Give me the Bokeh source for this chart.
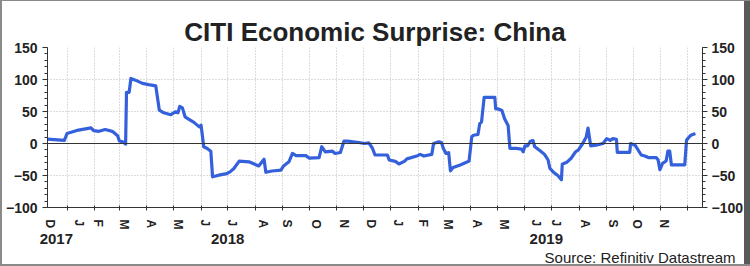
import pandas as pd
from bokeh.plotting import figure
from bokeh.models import (Range1d, LinearAxis, FixedTicker, Span, Grid, Title,
                          ColumnDataSource)
from bokeh.embed import file_html
from bokeh.resources import INLINE

# ---------------- data ----------------
dates = [
    "2017-12-10", "2017-12-29", "2018-01-01", "2018-01-14", "2018-01-28", "2018-01-31",
    "2018-02-06", "2018-02-13", "2018-02-21", "2018-02-27", "2018-03-01", "2018-03-05",
    "2018-03-08", "2018-03-09", "2018-03-12", "2018-03-14", "2018-03-19", "2018-03-27",
    "2018-04-03", "2018-04-11", "2018-04-15", "2018-04-20", "2018-04-28", "2018-05-03",
    "2018-05-06", "2018-05-08", "2018-05-11", "2018-05-14", "2018-05-18", "2018-05-24",
    "2018-05-30", "2018-06-01", "2018-06-02", "2018-06-04", "2018-06-08", "2018-06-12",
    "2018-06-14", "2018-06-21", "2018-06-30", "2018-07-04", "2018-07-08", "2018-07-14",
    "2018-07-25", "2018-08-05", "2018-08-11", "2018-08-13", "2018-08-20", "2018-08-30",
    "2018-09-02", "2018-09-08", "2018-09-12", "2018-09-16", "2018-09-27", "2018-10-01",
    "2018-10-12", "2018-10-15", "2018-10-19", "2018-10-27", "2018-10-30", "2018-11-05",
    "2018-11-09", "2018-11-13", "2018-11-26", "2018-12-02", "2018-12-07", "2018-12-11",
    "2018-12-14", "2018-12-28", "2018-12-30", "2019-01-06", "2019-01-10", "2019-01-16",
    "2019-01-19", "2019-01-31", "2019-02-03", "2019-02-07", "2019-02-16", "2019-02-18",
    "2019-02-24", "2019-02-27", "2019-03-01", "2019-03-04", "2019-03-07", "2019-03-09",
    "2019-03-12", "2019-03-20", "2019-03-27", "2019-03-30", "2019-04-02", "2019-04-04",
    "2019-04-09", "2019-04-11", "2019-04-13", "2019-04-16", "2019-04-28", "2019-04-29",
    "2019-05-02", "2019-05-06", "2019-05-09", "2019-05-13", "2019-05-15", "2019-05-22",
    "2019-05-28", "2019-05-30", "2019-06-01", "2019-06-04", "2019-06-07", "2019-06-10",
    "2019-06-12", "2019-06-18", "2019-06-23", "2019-06-27", "2019-06-29", "2019-07-03",
    "2019-07-08", "2019-07-12", "2019-07-13", "2019-07-18", "2019-07-23", "2019-07-28",
    "2019-07-31", "2019-08-05", "2019-08-09", "2019-08-11", "2019-08-14", "2019-08-20",
    "2019-08-28", "2019-09-01", "2019-09-05", "2019-09-08", "2019-09-12", "2019-09-13",
    "2019-09-27", "2019-09-28", "2019-10-03", "2019-10-10", "2019-10-14", "2019-10-18",
    "2019-10-27", "2019-10-29", "2019-10-31", "2019-11-03", "2019-11-07", "2019-11-09",
    "2019-11-11", "2019-11-13", "2019-11-28", "2019-11-30", "2019-12-02", "2019-12-05",
    "2019-12-10",
]
surprise = [
    6.8, 5, 15.6, 21, 24.5, 20,
    19, 22, 19, 12, 4, 2.6,
    -1, 80, 80, 101.6, 99, 94,
    92, 90, 52, 48, 45, 49.5,
    48, 58, 55.7, 41.7, 38, 33,
    26, 28.6, 18, -5, -7.8, -12,
    -52, -49.5, -47, -44, -39, -27.6,
    -28.6, -35, -24.5, -45, -43, -41.7,
    -35, -28.6, -15.6, -19, -19, -23,
    -22, -5, -13, -12, -15.6, -14,
    3.6, 3.6, 1.6, 0, 1, -7,
    -18, -18, -25.8, -28, -32, -28,
    -24, -19, -17, -19.6, -17, 0,
    2.6, 1.5, -7.7, -15.5, -14.4, -42.7,
    -37.6, -33.5, -29.4, -27.3, 10.3, 12.9,
    14, 31, 33.5, 72, 72, 54,
    54, 51.5, 38.6, 28, -7.7, -7.7,
    -8.8, -12.9, -3.6, -3.6, 3.6, 4.6,
    -5, -11.3, -17, -25.8, -38.6, -44.8,
    -50, -56.7, -32.4, -29.4, -23, -12.9,
    -10.3, 0, 10.3, 24.2, -3.6, -2.6,
    0, 7.7, 5, 7.7, 6.7, -13.9,
    -13.9, 0, -2.6, -18, -19.6, -22,
    -22, -25.8, -41, -31, -27.3, -11.8,
    -11.8, -33.5, -33.5, 5, 8.7, 12.9,
    15.5,
]
month_letters = ["D", "J", "F", "M", "A", "M", "J", "J", "A", "S", "O", "N",
                 "D", "J", "F", "M", "A", "M", "J", "J", "A", "S", "O", "N"]
month_label_dates = [
    "2017-12-13", "2018-01-15", "2018-02-05", "2018-03-06", "2018-04-06", "2018-05-06",
    "2018-06-06", "2018-07-06", "2018-08-10", "2018-09-06", "2018-10-09", "2018-11-09",
    "2018-12-09", "2019-01-09", "2019-02-06", "2019-03-06", "2019-04-08", "2019-05-08",
    "2019-06-13", "2019-07-06", "2019-08-08", "2019-09-08", "2019-10-05", "2019-11-05",
]
month_starts = ["2017-12-01"] + [f"2018-{m:02d}-01" for m in range(1, 13)] + \
               [f"2019-{m:02d}-01" for m in range(1, 13)]
year_labels = ["2017", "2018", "2019"]
year_label_dates = ["2017-12-20", "2018-07-01", "2019-06-25"]
y_ticks = [-100, -50, 0, 50, 100, 150]
y_minor = list(range(-100, 151, 10))
title_text = "CITI Economic Surprise: China"
source_text = "Source: Refinitiv Datastream"


def ms(d):
    return int(pd.Timestamp(d).value // 10**6)


x_start, x_end = "2017-12-10", "2019-12-18"

src = ColumnDataSource(data=dict(x=pd.to_datetime(dates), y=surprise))

p = figure(width=750, height=266, output_backend="svg", toolbar_location=None,
           title_location=None,
           x_axis_type=None, y_axis_type=None,
           x_range=Range1d(ms(x_start), ms(x_end)), y_range=Range1d(-100, 150),
           min_border_left=47, min_border_right=48, min_border_top=47,
           min_border_bottom=59)
p.outline_line_color = None
p.background_fill_color = "white"
p.border_fill_color = None
p.border_fill_alpha = 0

FONT = "'Liberation Sans', Arial, sans-serif"
NARROW = "'Liberation Sans Narrow', 'Liberation Sans', Arial, sans-serif"

# empty spacer panel between the plot frame and the title (inner-most above panel);
# it has no ticks, so nothing is drawn, but its tick length reserves the space
spacer = LinearAxis(ticker=FixedTicker(ticks=[], minor_ticks=[]))
spacer.axis_line_color = None
spacer.major_tick_line_color = "white"
spacer.minor_tick_line_color = None
spacer.major_tick_out = 11
spacer.major_tick_in = 0
spacer.minor_tick_out = 0
spacer.major_label_standoff = 0
p.add_layout(spacer, "above")

p.add_layout(Title(text=title_text, align="center", text_font=NARROW,
                   text_font_size="26px", text_font_style="bold",
                   text_color="#222222", standoff=2), "above")

# grids
vgrid = Grid(dimension=0, ticker=FixedTicker(ticks=[ms(d) for d in month_starts]),
             grid_line_color="#b8b8b8", grid_line_dash="1 2", grid_line_width=1)
hgrid = Grid(dimension=1, ticker=FixedTicker(ticks=y_ticks),
             grid_line_color="#b8b8b8", grid_line_dash="1 2", grid_line_width=1)
p.add_layout(vgrid)
p.add_layout(hgrid)


def style_y(ax, standoff):
    ax.ticker = FixedTicker(ticks=y_ticks, minor_ticks=y_minor)
    ax.axis_line_color = "#333333"
    ax.major_tick_line_color = "#333333"
    ax.minor_tick_line_color = "#333333"
    ax.major_tick_out = 5
    ax.major_tick_in = 0
    ax.minor_tick_out = 3
    ax.minor_tick_in = 0
    ax.major_label_text_font = FONT
    ax.major_label_text_font_size = "14px"
    ax.major_label_text_font_style = "bold"
    ax.major_label_text_color = "#222222"
    ax.major_label_standoff = standoff


yl = LinearAxis()
style_y(yl, 5)
p.add_layout(yl, "left")
yr = LinearAxis()
style_y(yr, 4)
p.add_layout(yr, "right")

# month axis
xa = LinearAxis()
xa.ticker = FixedTicker(ticks=[ms(d) for d in month_label_dates],
                        minor_ticks=[ms(d) for d in month_starts])
xa.major_label_overrides = {ms(d): t for d, t in zip(month_label_dates, month_letters)}
xa.major_label_orientation = "vertical"
xa.axis_line_color = "#333333"
xa.major_tick_line_color = None
xa.major_tick_out = 0
xa.major_tick_in = 0
xa.minor_tick_line_color = "#333333"
xa.minor_tick_out = 3
xa.minor_tick_in = 2
xa.major_label_text_font = FONT
xa.major_label_text_font_size = "12px"
xa.major_label_text_font_style = "bold"
xa.major_label_text_color = "#222222"
xa.major_label_standoff = 9
p.add_layout(xa, "below")

# year axis
ya = LinearAxis()
ya.ticker = FixedTicker(ticks=[ms(d) for d in year_label_dates], minor_ticks=[])
ya.major_label_overrides = {ms(d): t for d, t in zip(year_label_dates, year_labels)}
ya.axis_line_color = None
ya.major_tick_line_color = None
ya.minor_tick_line_color = None
ya.major_tick_out = 0
ya.major_tick_in = 0
ya.major_label_text_font = NARROW
ya.major_label_text_font_size = "15px"
ya.major_label_text_font_style = "bold"
ya.major_label_text_color = "#222222"
ya.major_label_standoff = 1
p.add_layout(ya, "below")

p.add_layout(Title(text=source_text, align="right",
                   text_font=NARROW, text_font_size="15px",
                   text_font_style="normal", text_color="#222222", offset=-33,
                   standoff=0), "below")

p.add_layout(Span(location=0, dimension="width", line_color="#333333", line_width=1))

p.line("x", "y", source=src, line_color="#3560DC", line_width=3.2, line_join="round")

# thin outer frame of the picture (drawn as inset shadows, no effect on layout)
p.styles = {"box-shadow": ("inset 2px 0 0 0 #8a8a8a, inset 0 1px 0 0 #8a8a8a, "
                           "inset 0 -2px 0 0 #8a8a8a, inset -6px 0 0 0 #5a5a5a"),
            "background-color": "white"}

open("out.html", "w").write(file_html(p, INLINE))
